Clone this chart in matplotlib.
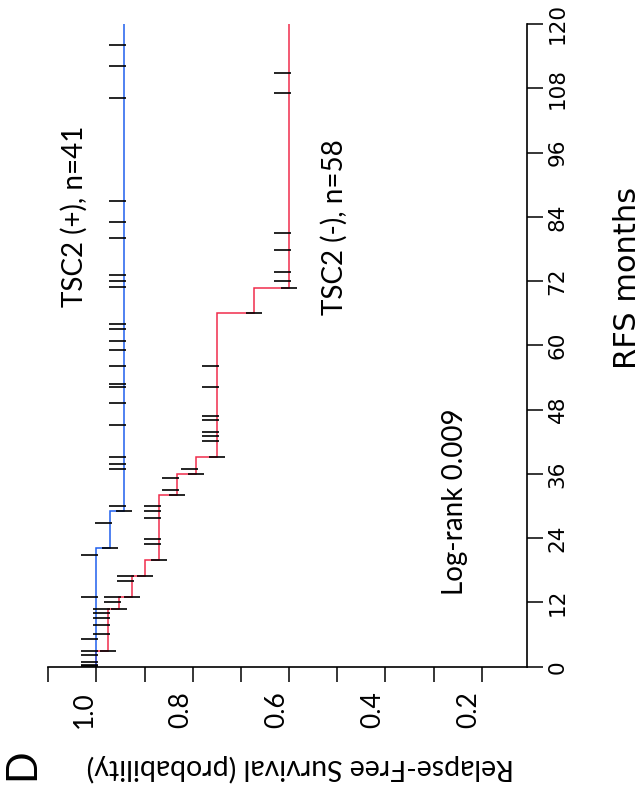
import matplotlib
matplotlib.use("Agg")
import matplotlib.pyplot as plt
import numpy as np

# ---------------- data ----------------
# TSC2 (+), n=41  (blue)
pos_event_months = [22.1, 29.1]
pos_event_surv = [0.971, 0.942]
pos_censor_months = [0.1, 0.3, 0.85, 2.13, 2.87, 5.1, 12.95, 20.8, 26.8, 29.95,
                     36.85, 37.8, 39.1, 45.1, 49.2, 52.2, 52.8, 56.1, 59.1, 60.75,
                     63.0, 63.9, 70.9, 72.0, 73.1, 80.0, 83.0, 86.9, 106.1, 112.1, 116.1]

# TSC2 (-), n=58  (red)
neg_event_months = [2.87, 10.7, 12.95, 16.9, 19.9, 32.0, 35.9, 39.1, 66.0, 70.8]
neg_event_surv = [0.976, 0.953, 0.926, 0.899, 0.870, 0.833, 0.793, 0.750, 0.673, 0.600]
neg_censor_months = [6.04, 7.72, 9.03, 9.96, 10.7, 12.0, 12.95, 15.95, 16.9, 22.85,
                     23.8, 27.7, 29.0, 29.95, 32.9, 35.2, 36.85, 42.1, 43.0, 43.8,
                     46.0, 46.9, 52.2, 56.1, 72.1, 73.75, 77.8, 80.9, 107.1, 110.8]

month_ticks = [0, 12, 24, 36, 48, 60, 72, 84, 96, 108, 120]
surv_ticks = [1.1, 1.0, 0.9, 0.8, 0.7, 0.6, 0.5, 0.4, 0.3, 0.2]
surv_labels = ["", "1.0", "", "0.8", "", "0.6", "", "0.4", "", "0.2"]
max_month = 120

BLUE = "#1f5fee"
RED = "#f02c4c"

W, H = 642, 798
fig = plt.figure(figsize=(W / 100, H / 100), dpi=100)
L, R, T, B = 48.3, 526.7, 24.0, 666.7
ax = fig.add_axes([L / W, 1 - B / H, (R - L) / W, (B - T) / H])

px_per_unit = 481.6
ax.set_xlim(1.1, 1.1 - (R - L) / px_per_unit)
ax.set_ylim(0, max_month)


def km_path(ev_t, ev_s, tmax):
    xs, ys = [1.0], [0.0]
    cur = 1.0
    for t, s in zip(ev_t, ev_s):
        xs += [cur, s]
        ys += [t, t]
        cur = s
    xs.append(cur)
    ys.append(tmax)
    return xs, ys


def level_before(ev_t, ev_s, t):
    cur = 1.0
    for et, es in zip(ev_t, ev_s):
        if et < t:
            cur = es
    return cur


tick_hi = 15.0 / px_per_unit
tick_lo = 2.0 / px_per_unit
ev_half = 8.0 / px_per_unit

for ev_t, ev_s, cens, col in [(neg_event_months, neg_event_surv, neg_censor_months, RED),
                              (pos_event_months, pos_event_surv, pos_censor_months, BLUE)]:
    xs, ys = km_path(ev_t, ev_s, max_month)
    ax.plot(xs, ys, color=col, lw=1.1, zorder=2, solid_joinstyle="miter")

for ev_t, ev_s, cens in [(neg_event_months, neg_event_surv, neg_censor_months),
                         (pos_event_months, pos_event_surv, pos_censor_months)]:
    for t in cens:
        s = level_before(ev_t, ev_s, t)
        ax.plot([s - tick_lo, s + tick_hi], [t, t], color="black", lw=1.2, zorder=3,
                solid_capstyle="butt")
    for t, s in zip(ev_t, ev_s):
        ax.plot([s - ev_half, s + ev_half], [t, t], color="black", lw=1.2, zorder=3,
                solid_capstyle="butt")

for sp in ["top", "left"]:
    ax.spines[sp].set_visible(False)
for sp in ["bottom", "right"]:
    ax.spines[sp].set_linewidth(1.2)

ax.set_xticks(surv_ticks)
ax.set_xticklabels(surv_labels, rotation=90, ha="right", family="Lato", fontsize=19)
ax.tick_params(axis="x", direction="out", length=10.5, width=1.1, pad=7)

ax.yaxis.tick_right()
ax.set_yticks(month_ticks)
ax.set_yticklabels([str(m) for m in month_ticks], rotation=90, va="center",
                   family="DejaVu Sans", fontsize=15.5)
ax.tick_params(axis="y", direction="out", length=11.5, width=1.1, pad=3.5)


def ftext(x, y, s, **kw):
    fig.text(x / W, 1 - y / H, s, ha="center", va="center", **kw)


ftext(74, 216, "TSC2 (+), n=41", rotation=90, family="Lato", fontsize=20)
ftext(334, 227, "TSC2 (-), n=58", rotation=90, family="Lato", fontsize=20)
ftext(455, 502, "Log-rank 0.009", rotation=90, family="Lato", fontsize=20)
ftext(627, 278, "RFS months", rotation=90, family="DejaVu Sans", fontsize=22)
ftext(300, 768, "Relapse-Free Survival (probability)", rotation=180, family="Lato",
      fontsize=20.5)
ftext(22, 764, "D", rotation=90, family="Lato", fontsize=30)

fig.savefig("out.png", dpi=100)
